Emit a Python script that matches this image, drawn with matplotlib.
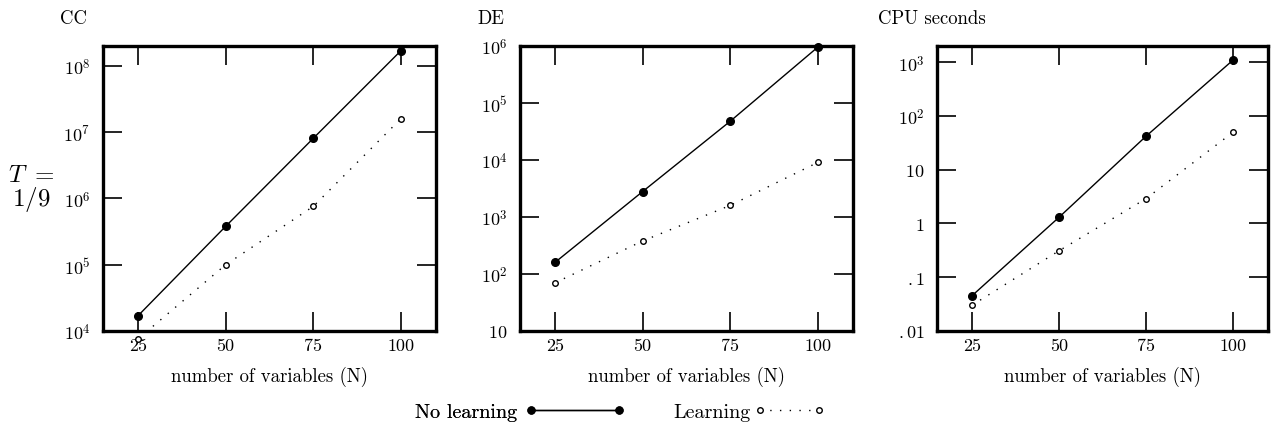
import matplotlib
matplotlib.use("Agg")
import matplotlib.pyplot as plt
from matplotlib.lines import Line2D

plt.rcParams['font.family'] = ['cmr10', 'DejaVu Serif']
plt.rcParams['mathtext.fontset'] = 'cm'
plt.rcParams['axes.unicode_minus'] = False
plt.rcParams['axes.formatter.use_mathtext'] = True

# data
n_vars = [25, 50, 75, 100]

cc_no_learning = [1.7e4, 3.8e5, 8.1e6, 1.7e8]
cc_learning = [7.6e3, 1.0e5, 7.6e5, 1.6e7]

de_no_learning = [160, 2.8e3, 4.8e4, 9.6e5]
de_learning = [70, 380, 1.6e3, 9.1e3]

cpu_no_learning = [0.045, 1.3, 42, 1.1e3]
cpu_learning = [0.03, 0.31, 2.9, 50]

titles = ["CC", "DE", "CPU seconds"]
x_ticks = [25, 50, 75, 100]
cc_ticks = [1e4, 1e5, 1e6, 1e7, 1e8]
cc_labels = [r'$10^{4}$', r'$10^{5}$', r'$10^{6}$', r'$10^{7}$', r'$10^{8}$']
de_ticks = [10, 1e2, 1e3, 1e4, 1e5, 1e6]
de_labels = [r'$10$', r'$10^{2}$', r'$10^{3}$', r'$10^{4}$', r'$10^{5}$', r'$10^{6}$']
cpu_ticks = [0.01, 0.1, 1, 10, 1e2, 1e3]
cpu_labels = [r'$.01$', r'$.1$', r'$1$', r'$10$', r'$10^{2}$', r'$10^{3}$']

panels = [
    (cc_no_learning, cc_learning, cc_ticks, cc_labels, (1e4, 2e8)),
    (de_no_learning, de_learning, de_ticks, de_labels, (10, 1e6)),
    (cpu_no_learning, cpu_learning, cpu_ticks, cpu_labels, (0.01, 2e3)),
]

W, H = 1271, 431
fig = plt.figure(figsize=(W / 100, H / 100), dpi=100)

lefts = [103, 520, 937]
widths = [333, 333, 331]
top, bottom = 47, 332
dots = (0, (1, 6))

for i, (nl, lr, yt, yl, ylim) in enumerate(panels):
    ax = fig.add_axes([lefts[i] / W, 1 - bottom / H, widths[i] / W, (bottom - top) / H])
    ax.set_yscale('log')
    ax.plot(n_vars, nl, color='black', lw=1.0)
    ax.plot(n_vars, nl, 'o', color='black', ms=5.5, clip_on=False)
    ax.plot(n_vars, lr, color='black', lw=1.0, linestyle=dots)
    ax.plot(n_vars, lr, 'o', mfc='white', mec='black', mew=1.0, ms=4, clip_on=False)
    ax.set_xlim(15, 110)
    ax.set_ylim(*ylim)
    ax.set_xticks(x_ticks)
    ax.set_xticklabels([str(v) for v in x_ticks])
    ax.set_yticks(yt)
    ax.set_yticklabels(yl)
    ax.minorticks_off()
    ax.tick_params(axis='both', which='major', direction='in', length=14, width=1.2,
                   top=True, right=True, labelsize=13)
    ax.tick_params(axis='y', pad=9)
    ax.tick_params(axis='x', pad=5)
    for sp in ax.spines.values():
        sp.set_linewidth(2.4)
    cx = (lefts[i] + widths[i] / 2) / W
    fig.text(cx, 1 - 377 / H, "number of variables (N)", ha='center', va='center', fontsize=13.5)

title_x = [60, 477, 878]
for tx, t in zip(title_x, titles):
    fig.text(tx / W, 1 - 19 / H, t, ha='left', va='center', fontsize=13.5)

fig.text(31 / W, 1 - 176 / H, r'$T\ =$', ha='center', va='center', fontsize=18)
fig.text(31 / W, 1 - 200 / H, r'$1/9$', ha='center', va='center', fontsize=18)

h1 = Line2D([], [], color='black', lw=1.0, marker='o', ms=5)
h2 = Line2D([], [], color='black', lw=1.0, linestyle=dots, marker='o', mfc='white', mec='black', ms=4)
leg1 = fig.legend([h1], ["No learning"], loc='center', bbox_to_anchor=(520 / W, 1 - 413 / H),
                  frameon=False, markerfirst=False, numpoints=2, handlelength=5.0,
                  handletextpad=0.4, fontsize=14.5)
fig.add_artist(leg1)
fig.legend([h2], ["Learning"], loc='center', bbox_to_anchor=(749 / W, 1 - 413 / H),
           frameon=False, markerfirst=False, numpoints=2, handlelength=3.5,
           handletextpad=0.2, fontsize=14.5)

fig.savefig("out.png", dpi=100)
